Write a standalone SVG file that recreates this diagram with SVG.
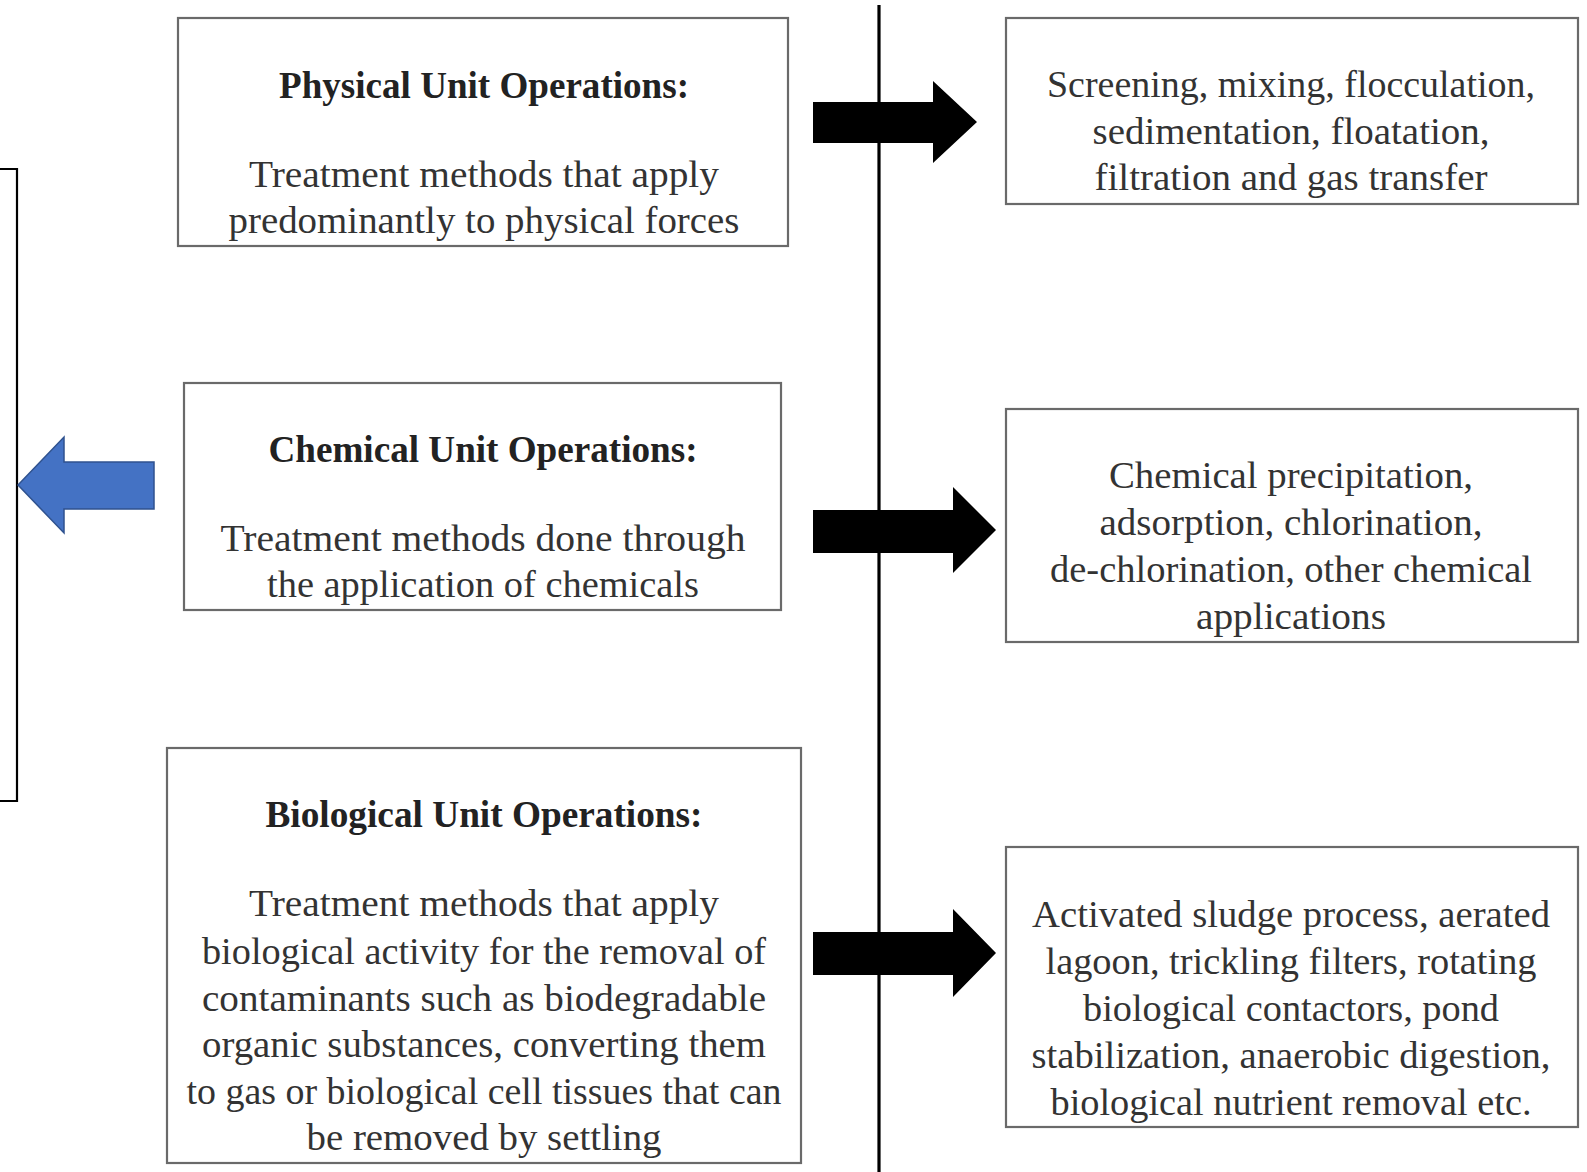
<svg xmlns="http://www.w3.org/2000/svg" width="1587" height="1172" viewBox="0 0 1587 1172">
<defs>
<style>
.box{fill:#fff;stroke:#6a6a6a;stroke-width:2.2}
.t{font-family:"Liberation Serif","Times New Roman",serif;font-size:37px;fill:#333;text-anchor:middle}
.b{font-weight:bold;fill:#222}
.blk{fill:#000}
</style>
</defs>
<rect width="1587" height="1172" fill="#fff"/>

<g id="connectors">
<path d="M0,169 H17 V801 H0" fill="none" stroke="#000" stroke-width="2.2"/>
<line x1="879" y1="5" x2="879" y2="1172" stroke="#000" stroke-width="3.2"/>
<polygon class="blk" points="813,102 933,102 933,81 977,122 933,163 933,143 813,143"/>
<polygon class="blk" points="813,510 953,510 953,487 996,530 953,573 953,553 813,553"/>
<polygon class="blk" points="813,932 953,932 953,909 996,953 953,997 953,975 813,975"/>
<polygon points="18,485 64,437 64,462 154,462 154,509 64,509 64,533" fill="#4472C4" stroke="#2F528F" stroke-width="1.5"/>
</g>

<g id="physical">
<rect class="box" x="178" y="18" width="610" height="228"/>
<text class="t b" x="484" y="98" textLength="410" lengthAdjust="spacingAndGlyphs">Physical Unit Operations:</text>
<text class="t" x="484" y="187" textLength="470" lengthAdjust="spacingAndGlyphs">Treatment methods that apply</text>
<text class="t" x="484" y="233" textLength="511" lengthAdjust="spacingAndGlyphs">predominantly to physical forces</text>
</g>

<g id="physical-examples">
<rect class="box" x="1006" y="18" width="572" height="186"/>
<text class="t" x="1291" y="97" textLength="488" lengthAdjust="spacingAndGlyphs">Screening, mixing, flocculation,</text>
<text class="t" x="1291" y="144" textLength="397" lengthAdjust="spacingAndGlyphs">sedimentation, floatation,</text>
<text class="t" x="1291" y="190" textLength="393" lengthAdjust="spacingAndGlyphs">filtration and gas transfer</text>
</g>

<g id="chemical">
<rect class="box" x="184" y="383" width="597" height="227"/>
<text class="t b" x="483" y="462" textLength="429" lengthAdjust="spacingAndGlyphs">Chemical Unit Operations:</text>
<text class="t" x="483" y="551" textLength="525" lengthAdjust="spacingAndGlyphs">Treatment methods done through</text>
<text class="t" x="483" y="597" textLength="432" lengthAdjust="spacingAndGlyphs">the application of chemicals</text>
</g>

<g id="chemical-examples">
<rect class="box" x="1006" y="409" width="572" height="233"/>
<text class="t" x="1291" y="488" textLength="364" lengthAdjust="spacingAndGlyphs">Chemical precipitation,</text>
<text class="t" x="1291" y="535" textLength="383" lengthAdjust="spacingAndGlyphs">adsorption, chlorination,</text>
<text class="t" x="1291" y="582" textLength="482" lengthAdjust="spacingAndGlyphs">de-chlorination, other chemical</text>
<text class="t" x="1291" y="629" textLength="190" lengthAdjust="spacingAndGlyphs">applications</text>
</g>

<g id="biological">
<rect class="box" x="167" y="748" width="634" height="415"/>
<text class="t b" x="484" y="827" textLength="437" lengthAdjust="spacingAndGlyphs">Biological Unit Operations:</text>
<text class="t" x="484" y="916" textLength="470" lengthAdjust="spacingAndGlyphs">Treatment methods that apply</text>
<text class="t" x="484" y="964" textLength="564" lengthAdjust="spacingAndGlyphs">biological activity for the removal of</text>
<text class="t" x="484" y="1011" textLength="564" lengthAdjust="spacingAndGlyphs">contaminants such as biodegradable</text>
<text class="t" x="484" y="1057" textLength="564" lengthAdjust="spacingAndGlyphs">organic substances, converting them</text>
<text class="t" x="484" y="1104" textLength="595" lengthAdjust="spacingAndGlyphs">to gas or biological cell tissues that can</text>
<text class="t" x="484" y="1150" textLength="355" lengthAdjust="spacingAndGlyphs">be removed by settling</text>
</g>

<g id="biological-examples">
<rect class="box" x="1006" y="847" width="572" height="280"/>
<text class="t" x="1291" y="927" textLength="518" lengthAdjust="spacingAndGlyphs">Activated sludge process, aerated</text>
<text class="t" x="1291" y="974" textLength="491" lengthAdjust="spacingAndGlyphs">lagoon, trickling filters, rotating</text>
<text class="t" x="1291" y="1021" textLength="416" lengthAdjust="spacingAndGlyphs">biological contactors, pond</text>
<text class="t" x="1291" y="1068" textLength="519" lengthAdjust="spacingAndGlyphs">stabilization, anaerobic digestion,</text>
<text class="t" x="1291" y="1115" textLength="481" lengthAdjust="spacingAndGlyphs">biological nutrient removal etc.</text>
</g>
</svg>
